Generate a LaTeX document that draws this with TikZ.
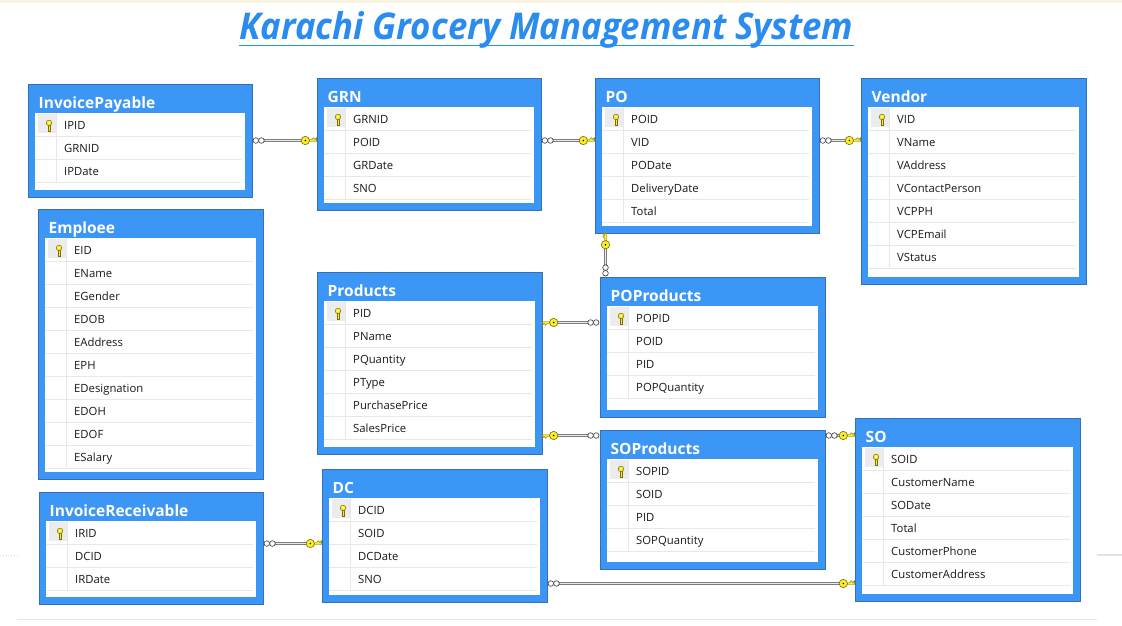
\documentclass[tikz,border=0pt]{standalone}
\usepackage{fontspec}
\usepackage{graphicx}
\setmainfont{Open Sans}
\usetikzlibrary{calc}
\definecolor{tblue}{RGB}{60,150,245}
\definecolor{tborder}{RGB}{52,112,180}
\definecolor{ttitle}{RGB}{43,140,240}
\definecolor{keyy}{RGB}{250,236,40}
\definecolor{keyd}{RGB}{120,110,10}
\definecolor{sepc}{RGB}{232,232,232}
\definecolor{keycell}{RGB}{236,236,236}
\definecolor{topcream}{RGB}{250,244,226}
\definecolor{rowtxt}{RGB}{25,25,25}
\definecolor{relgray}{RGB}{125,125,125}
\definecolor{relin}{RGB}{235,235,235}
\tikzset{
 tbl/.style={draw=tborder, fill=tblue, line width=0.8pt, inner sep=0pt, outer sep=0pt, rectangle},
 tbltitle/.style={text=white, font=\fontsize{15.5}{17}\selectfont\bfseries, inner sep=0pt, anchor=base west},
 rowtext/.style={text=rowtxt, font=\fontsize{11.3}{13}\selectfont, inner sep=0pt, anchor=base west},
 sepline/.style={draw=sepc, line width=0.6pt},
 relline/.style={draw=relgray, double=relin, double distance=1.6pt, line width=1pt},
 infc/.style={draw=black!80, fill=white, line width=0.6pt},
 keyc/.style={draw=keyd, fill=keyy, line width=0.6pt},
}
\newcommand\keyicon[2]{%
 \begin{scope}[shift={(#1,#2)}]
  \filldraw[keyd, fill=keyy, line width=0.4pt] (-0.9,-1) rectangle (0.9,5.5);
  \draw[keyd, line width=0.6pt] (0.9,2.5) -- (2.4,2.5) (0.9,4.5) -- (2.4,4.5);
  \filldraw[keyd, fill=keyy, line width=0.5pt] (0,-2.6) circle[radius=2.8pt];
  \fill[white] (0,-2.8) circle[radius=0.9pt];
 \end{scope}}
\newcommand\dbtable[7]{%
 \node[tbl, anchor=north west, minimum width={(#4-#2)*1pt}, minimum height={(#5-#3)*1pt}] (#1) at (#2,#3) {};
 \fill[white] (#2+7,#3+29) rectangle (#4-7,#5-7);
 \node[tbltitle] (#1-title) at (#2+10.5,#3+24.5) {#6};
 \foreach \r [count=\i] in {#7} {
   \node[rowtext] (#1-row\i) at (#2+36, #3+29+23*\i-7) {\r};
   \draw[sepline] (#2+7, #3+29+23*\i) -- (#4-10, #3+29+23*\i);
   \xdef\nrows{\i}
 }
 \draw[sepline] (#2+28, #3+29) -- (#2+28, #3+29+23*\nrows);
 \fill[keycell] (#2+10,#3+29.5) rectangle (#2+27.5,#3+48.5);
 \keyicon{#2+21}{#3+41.5}
}
\newcommand\rel[2]{%
 \draw[relline] ($(#1)!12.3pt!(#2)$) -- ($(#2)!15.5pt!(#1)$);
 \draw[infc] ($(#1)!3.8pt!(#2)$) circle[radius=2.8pt];
 \draw[infc] ($(#1)!9.4pt!(#2)$) circle[radius=2.8pt];
 \filldraw[keyd, fill=keyy, line width=0.45pt]
   ($(#2)!0.3pt!(#1)!1pt!90:(#1)$) -- ($(#2)!0.3pt!(#1)!2.8pt!-90:(#1)$)
   -- ($(#2)!2pt!(#1)!1pt!-90:(#1)$) -- ($(#2)!3.6pt!(#1)!2.8pt!-90:(#1)$)
   -- ($(#2)!5.3pt!(#1)!1pt!-90:(#1)$) -- ($(#2)!8.5pt!(#1)!1pt!-90:(#1)$)
   -- ($(#2)!8.5pt!(#1)!1pt!90:(#1)$) -- cycle;
 \filldraw[keyc] ($(#2)!11.7pt!(#1)$) circle[radius=4.2pt];
 \fill[black] ($(#2)!11.7pt!(#1)$) circle[radius=0.8pt];
}
\begin{document}
\begin{tikzpicture}[x=1pt,y=-1pt]
\useasboundingbox[fill=white] (0,0) rectangle (1122,625);
\fill[topcream] (0,0) rectangle (1122,2.5);
\draw[gray!18, line width=1.2pt] (17,619.5) -- (1097,619.5);
\draw[gray!30, line width=0.8pt, dotted] (0,555) -- (17,555);
\draw[gray!22, line width=1.2pt] (1097,555) -- (1122,555);
% title
\node[anchor=base west, inner sep=0pt, text=ttitle] (title) at (239,39)
  {\resizebox{614pt}{28pt}{\bfseries\itshape Karachi Grocery Management System}};
\draw[ttitle, line width=1.8pt] ($(title.base west)+(0,6.5)$) -- ($(title.base east)+(0,6.5)$);
% tables
\dbtable{ip}{28}{84}{252}{197}{InvoicePayable}{IPID,GRNID,IPDate}
\dbtable{grn}{317}{78}{541}{210}{GRN}{GRNID,POID,GRDate,SNO}
\dbtable{po}{595}{78}{819}{233}{PO}{POID,VID,PODate,DeliveryDate,Total}
\dbtable{vendor}{861}{78}{1086}{284}{Vendor}{VID,VName,VAddress,VContactPerson,VCPPH,VCPEmail,VStatus}
\dbtable{emp}{38}{209}{263}{479}{Emploee}{EID,EName,EGender,EDOB,EAddress,EPH,EDesignation,EDOH,EDOF,ESalary}
\dbtable{prod}{317}{272}{542}{454}{Products}{PID,PName,PQuantity,PType,PurchasePrice,SalesPrice}
\dbtable{popr}{600}{277}{825}{417}{POProducts}{POPID,POID,PID,POPQuantity}
\dbtable{sopr}{600}{430}{825}{569}{SOProducts}{SOPID,SOID,PID,SOPQuantity}
\dbtable{so}{855}{418}{1080}{601}{SO}{SOID,CustomerName,SODate,Total,CustomerPhone,CustomerAddress}
\dbtable{ir}{39}{492}{263}{604}{InvoiceReceivable}{IRID,DCID,IRDate}
\dbtable{dc}{322}{469}{547}{602}{DC}{DCID,SOID,DCDate,SNO}
% connector end points
\coordinate (c1i) at ($(ip.north east)+(0,56.5)$);
\coordinate (c1k) at ($(grn.north west)+(0,62.5)$);
\coordinate (c2i) at ($(grn.north east)+(0,62.5)$);
\coordinate (c2k) at ($(po.north west)+(0,62.5)$);
\coordinate (c3i) at ($(po.north east)+(0,62.5)$);
\coordinate (c3k) at ($(vendor.north west)+(0,62.5)$);
\coordinate (c4i) at ($(popr.north west)+(5.5,0)$);
\coordinate (c4k) at ($(po.south west)+(10.5,0)$);
\coordinate (c5i) at ($(popr.north west)+(0,45.5)$);
\coordinate (c5k) at ($(prod.north east)+(0,50.5)$);
\coordinate (c6i) at ($(sopr.north west)+(0,5.5)$);
\coordinate (c6k) at ($(prod.north east)+(0,163.5)$);
\coordinate (c7i) at ($(sopr.north east)+(0,5.5)$);
\coordinate (c7k) at ($(so.north west)+(0,17.5)$);
\coordinate (c8i) at ($(ir.north east)+(0,51.5)$);
\coordinate (c8k) at ($(dc.north west)+(0,74.5)$);
\coordinate (c9i) at ($(dc.north east)+(0,114.5)$);
\coordinate (c9k) at ($(so.north west)+(0,165.5)$);
\rel{c1i}{c1k}
\rel{c2i}{c2k}
\rel{c3i}{c3k}
\rel{c4i}{c4k}
\rel{c5i}{c5k}
\rel{c6i}{c6k}
\rel{c7i}{c7k}
\rel{c8i}{c8k}
\rel{c9i}{c9k}
\end{tikzpicture}
\end{document}
